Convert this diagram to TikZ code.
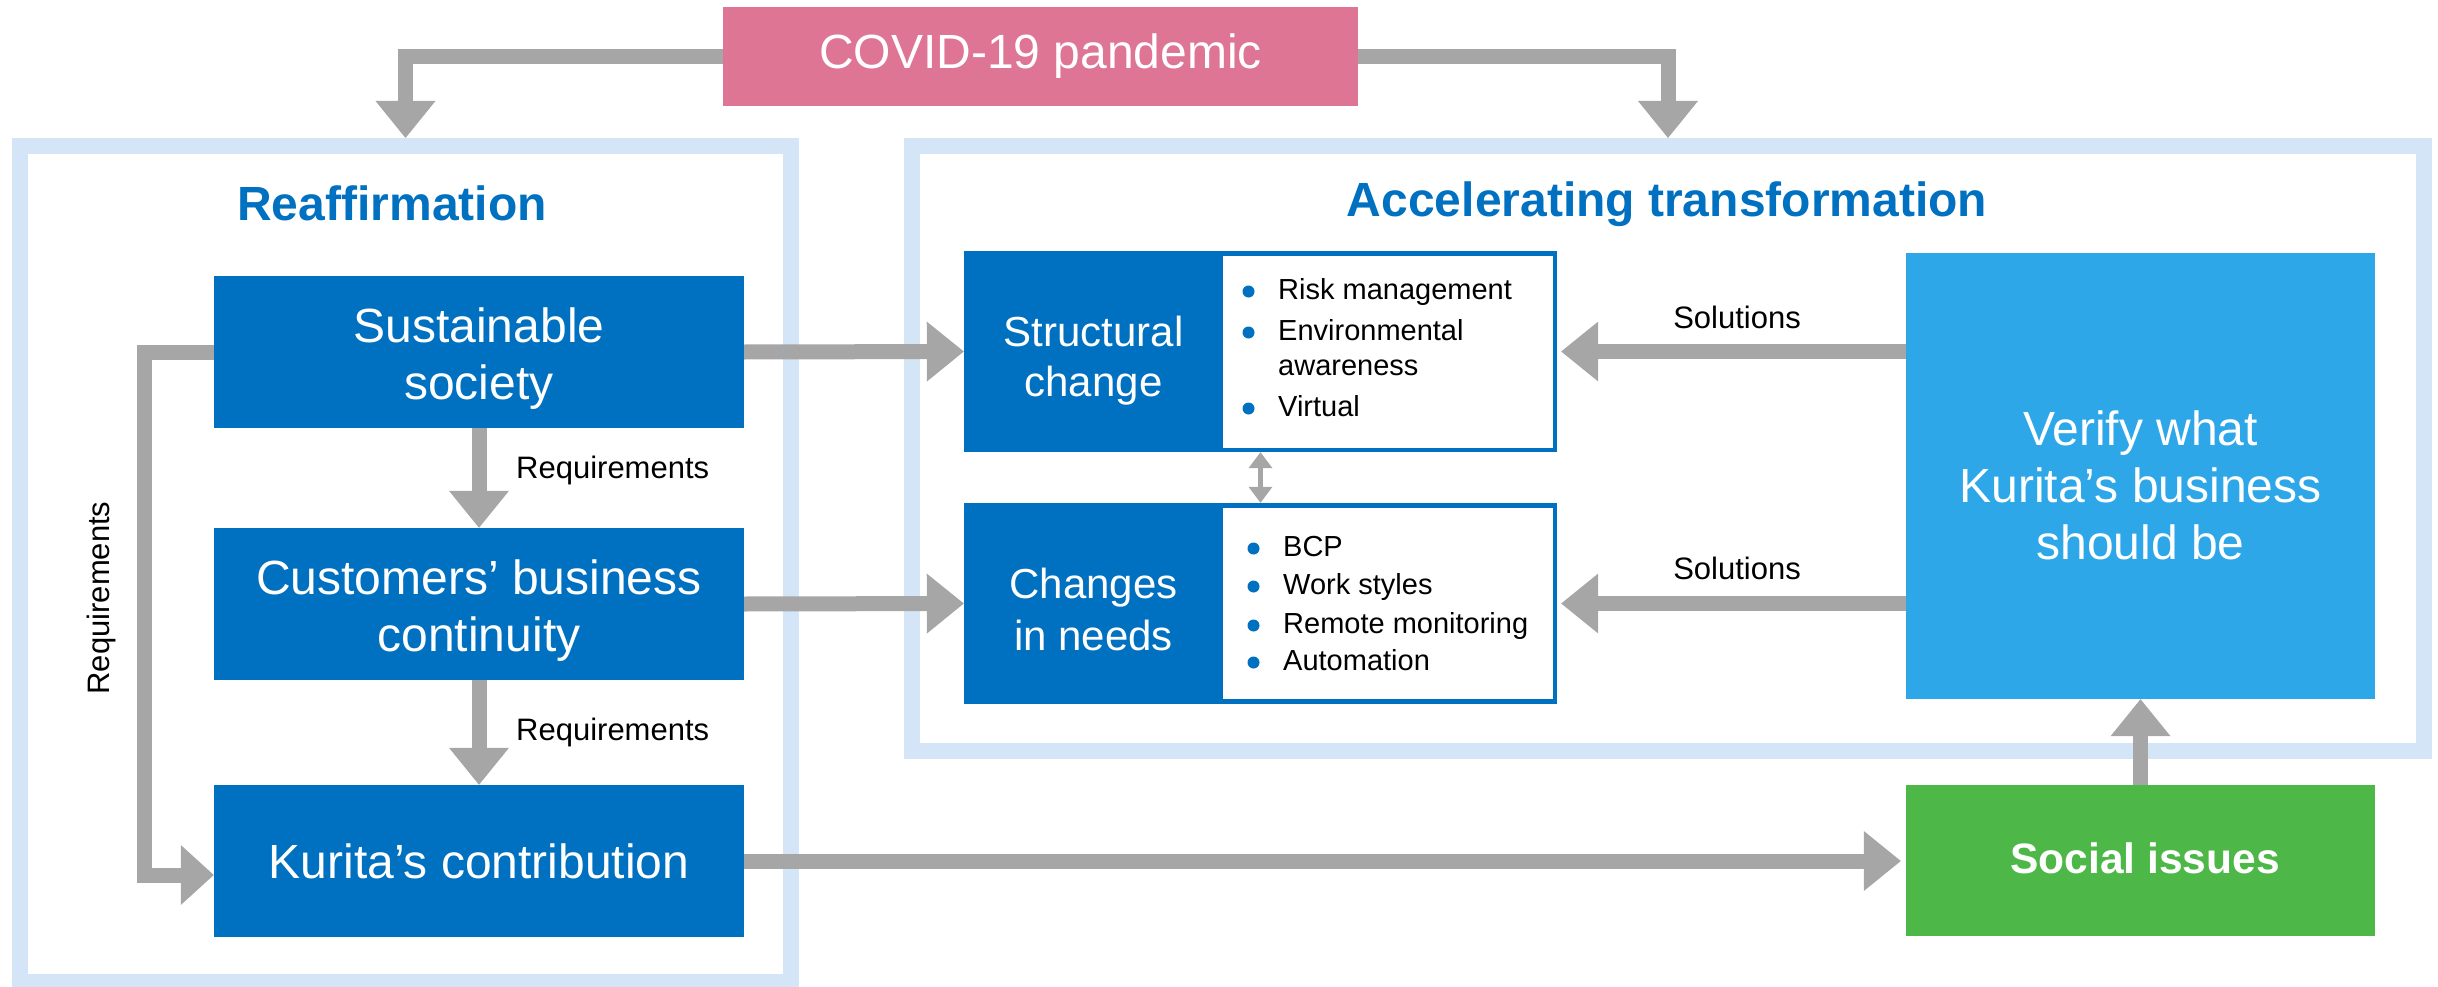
\documentclass[tikz,border=0pt]{standalone}
\usepackage{fontspec}
\setmainfont{Liberation Sans}
\usetikzlibrary{calc}
\definecolor{kblue}{HTML}{0070C0}
\definecolor{sky}{HTML}{2EA7E8}
\definecolor{kgreen}{HTML}{4DB848}
\definecolor{kpink}{HTML}{DE7595}
\definecolor{framec}{HTML}{D3E5F6}
\definecolor{agray}{HTML}{A6A6A6}
% tip, from-point, length, half width
\newcommand\blockhead[4]{%
  \coordinate (hb) at ($(#1)!#3pt!(#2)$);
  \fill[agray] (#1) -- ($(hb)!#4pt!90:(#1)$) -- ($(hb)!#4pt!-90:(#1)$) -- cycle;}
\newcommand\blockarrow[2]{%
  \blockhead{#2}{#1}{37}{30}
  \draw[shaft] (#1) -- (hb);}
\begin{document}
\begin{tikzpicture}[x=1pt,y=-1pt,
  shaft/.style={draw=agray, line width=15pt, line join=miter},
  framebox/.style={draw=framec, line width=16pt, inner sep=0pt},
  bluebox/.style={fill=kblue, inner sep=0pt, minimum width=530pt, minimum height=152pt},
  boxtext/.style={text=white, inner sep=0pt, align=center, font=\fontsize{48}{57}\selectfont},
  subbox/.style={fill=kblue, inner sep=0pt, minimum width=593pt, minimum height=201pt},
  whitebox/.style={fill=white, inner sep=0pt, minimum width=330pt},
  subtext/.style={text=white, inner sep=0pt, align=center, font=\fontsize{42}{50}\selectfont},
  titletext/.style={text=kblue, inner sep=0pt, anchor=base, font=\fontsize{48}{57}\selectfont\bfseries},
  lab/.style={inner sep=0pt, font=\fontsize{31}{37}\selectfont},
  item/.style={inner sep=0pt, anchor=base west, font=\fontsize{29}{35}\selectfont},
  dot/.style={fill=kblue}]
\useasboundingbox (0,0) rectangle (2438,987);

% frames
\node[framebox, minimum width=771pt, minimum height=836pt] (reaf) at (405.5,564) {};
\node[framebox, minimum width=1512pt, minimum height=605pt] (accel) at (1668,448.5) {};

% top
\node[fill=kpink, text=white, inner sep=0pt, minimum width=635pt, minimum height=99pt,
  font=\fontsize{48}{57}\selectfont] (covid) at (1040.5,56.5) {COVID-19 pandemic};

\node[titletext] (tr) at (392,220) {Reaffirmation};
\node[titletext] (ta) at (1667,217) {Accelerating transformation};

% left boxes
\node[bluebox] (sus) at (479,352) {};
\node[boxtext] (sust) at (479,359) {Sustainable\\society};
\node[bluebox] (cus) at (479,604) {};
\node[boxtext] (cust) at (479,611) {Customers’ business\\continuity};
\node[bluebox] (kur) at (479,861) {};
\node[boxtext] (kurt) at (479,861) {Kurita’s contribution};

% structural change
\node[subbox] (sc) at (1260.5,351.5) {};
\node[whitebox, minimum height=192pt] (scw) at (1388,352) {};
\node[subtext] (sct) at (1093.5,361) {Structural\\change};
\node[item] (s1) at (1278,299) {Risk management};
\node[item] (s2) at (1278,340) {Environmental};
\node[item] (s3) at (1278,375) {awareness};
\node[item] (s4) at (1278,416) {Virtual};
\fill[dot] ($(s1.base west)+(-29.5,-7.5)$) circle (6);
\fill[dot] ($(s2.base west)+(-29.5,-7.5)$) circle (6);
\fill[dot] ($(s4.base west)+(-29.5,-7.5)$) circle (6);

% changes in needs
\node[subbox] (cn) at (1260.5,603.5) {};
\node[whitebox, minimum height=191pt] (cnw) at (1388,603.5) {};
\node[subtext, font=\fontsize{42}{52}\selectfont] (cnt) at (1093.5,609) {Changes\\in needs};
\node[item] (c1) at (1283,556) {BCP};
\node[item] (c2) at (1283,594) {Work styles};
\node[item] (c3) at (1283,633) {Remote monitoring};
\node[item] (c4) at (1283,670) {Automation};
\foreach \c in {c1,c2,c3,c4}
  \fill[dot] ($(\c.base west)+(-29.5,-7.5)$) circle (6);

% right boxes
\node[fill=sky, inner sep=0pt, minimum width=469pt, minimum height=446pt] (ver) at (2140.5,476) {};
\node[boxtext] (vert) at (2140.5,485) {Verify what\\Kurita’s business\\should be};
\node[fill=kgreen, inner sep=0pt, minimum width=469pt, minimum height=151pt] (soc) at (2140.5,860.5) {};
\node[text=white, inner sep=0pt, font=\fontsize{42.5}{50}\selectfont\bfseries] (soct) at (2145,858) {Social issues};

% labels
\node[lab, anchor=base west] (rq1) at (516,478) {Requirements};
\node[lab, anchor=base west] (rq2) at (516,740) {Requirements};
\node[lab, rotate=90] (rq3) at (101,598) {Requirements};
\node[lab, anchor=base] (sol1) at (1737,328) {Solutions};
\node[lab, anchor=base] (sol2) at (1737,579) {Solutions};

% COVID arrows
\coordinate (e1) at (reaf.north |- covid.west);
\blockhead{reaf.north}{e1}{37}{30}
\draw[shaft] (covid.west) -- (e1) -- (hb);
\coordinate (e2) at (accel.north |- covid.east);
\blockhead{accel.north}{e2}{37}{30}
\draw[shaft] (covid.east) -- (e2) -- (hb);

% straight arrows
\blockarrow{sus.east}{sc.west}
\blockarrow{cus.east}{cn.west}
\blockarrow{sus.south}{cus.north}
\blockarrow{cus.south}{kur.north}
\coordinate (v1) at (ver.west |- sc.east);
\coordinate (v1t) at ($(sc.east)+(4,0)$);
\blockarrow{v1}{v1t}
\coordinate (v2) at (ver.west |- cn.east);
\coordinate (v2t) at ($(cn.east)+(4,0)$);
\blockarrow{v2}{v2t}
\coordinate (kst) at ($(kur.east -| soc.west)+(-5,0)$);
\blockarrow{kur.east}{kst}
\blockarrow{soc.north}{ver.south}

% left requirements arrow
\coordinate (r1) at ($(sus.west)+(-69,0)$);
\coordinate (rt) at ($(kur.west)+(0,14)$);
\coordinate (r2) at (r1 |- rt);
\blockhead{rt}{r2}{33}{30}
\draw[shaft] (sus.west) -- (r1) -- (r2) -- (hb);

% double arrow
\blockhead{sc.south}{cn.north}{16}{12}
\coordinate (ha) at (hb);
\blockhead{cn.north}{sc.south}{16}{12}
\draw[agray, line width=5pt] (ha) -- (hb);
\end{tikzpicture}
\end{document}
